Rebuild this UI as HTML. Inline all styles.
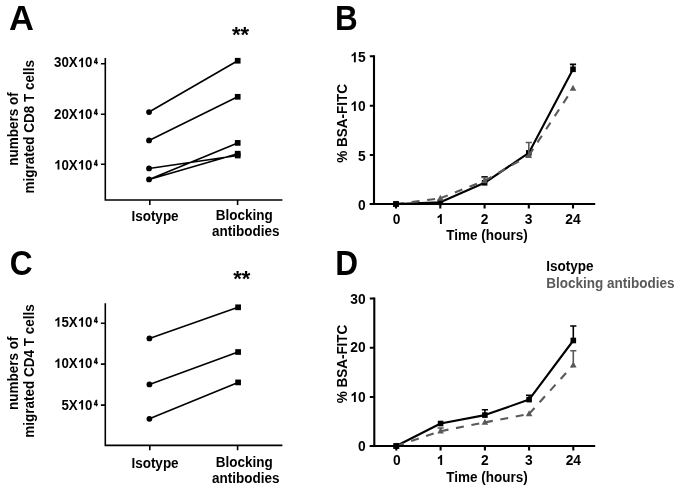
<!DOCTYPE html>
<html><head><meta charset="utf-8">
<style>
html,body{margin:0;padding:0;background:#fff;}
svg{display:block;will-change:transform;}
text{font-family:"Liberation Sans",sans-serif;font-weight:bold;fill:#000;}
</style></head><body>
<svg width="685" height="489" viewBox="0 0 685 489">
<rect width="685" height="489" fill="#fff"/>
<text transform="translate(8.9,29.6) scale(1.03,1.03)" style="font-size:33.5px">A</text>
<text x="240.5" y="42.3" text-anchor="middle" style="font-size:22px">**</text>
<g stroke="#000" stroke-width="1.6" fill="none">
<path d="M105.3 58.0V200.75M104.6 200.05H282.4"/>
<path d="M100.9 63.8H105.3M100.9 114.2H105.3M100.9 164.2H105.3"/>
<path d="M149.8 200.05V205.05M237.6 200.05V205.05"/>
<path d="M149.05 112.05L237.7 60.75M149.05 140.45L237.7 96.8M149.05 168.45L237.7 155.5M149.05 179.45L237.7 142.9M149.05 179.45L237.7 153.7"/>
</g><g fill="#000">
<circle cx="149.05" cy="112.05" r="2.9"/>
<circle cx="149.05" cy="140.45" r="2.9"/>
<circle cx="149.05" cy="168.45" r="2.9"/>
<circle cx="149.05" cy="179.45" r="2.9"/>
<rect x="234.85" y="57.90" width="5.7" height="5.7" fill="#000"/>
<rect x="234.85" y="93.95" width="5.7" height="5.7" fill="#000"/>
<rect x="234.85" y="140.05" width="5.7" height="5.7" fill="#000"/>
<rect x="234.85" y="150.85" width="5.7" height="5.7" fill="#000"/>
<rect x="234.85" y="152.65" width="5.7" height="5.7" fill="#000"/>
</g>
<text transform="translate(54.04,67.3) scale(1,1.04)" style="font-size:13.3px">30X 0</text><path d="M825 0H544V1000Q390 870 190 805V1050Q300 1086 429 1187Q558 1288 606 1409H825Z" transform="translate(77.71,67.3) scale(0.00649,-0.00675)" fill="#000"/>
<text transform="translate(94.1,63.5) scale(0.86,1.1)" style="font-size:7.6px;stroke:#000;stroke-width:0.5px">4</text>
<text transform="translate(54.04,119.0) scale(1,1.04)" style="font-size:13.3px">20X 0</text><path d="M825 0H544V1000Q390 870 190 805V1050Q300 1086 429 1187Q558 1288 606 1409H825Z" transform="translate(77.71,119.0) scale(0.00649,-0.00675)" fill="#000"/>
<text transform="translate(94.1,115.2) scale(0.86,1.1)" style="font-size:7.6px;stroke:#000;stroke-width:0.5px">4</text>
<text transform="translate(54.04,169.5) scale(1,1.04)" style="font-size:13.3px"> 0X 0</text><path d="M825 0H544V1000Q390 870 190 805V1050Q300 1086 429 1187Q558 1288 606 1409H825Z" transform="translate(54.04,169.5) scale(0.00649,-0.00675)" fill="#000"/><path d="M825 0H544V1000Q390 870 190 805V1050Q300 1086 429 1187Q558 1288 606 1409H825Z" transform="translate(77.71,169.5) scale(0.00649,-0.00675)" fill="#000"/>
<text transform="translate(94.1,165.7) scale(0.86,1.1)" style="font-size:7.6px;stroke:#000;stroke-width:0.5px">4</text>
<text transform="translate(155,220.7) scale(1,1.04)" text-anchor="middle" style="font-size:13.5px">Isotype</text>
<text transform="translate(244.2,219.8) scale(1,1.04)" text-anchor="middle" style="font-size:13.5px">Blocking</text>
<text transform="translate(245.8,235.8) scale(1,1.04)" text-anchor="middle" style="font-size:13.5px">antibodies</text>
<text transform="translate(17.9,128.9) rotate(-90) scale(1,1.04)" text-anchor="middle" style="font-size:13.5px">numbers of</text>
<text transform="translate(34.4,126.8) rotate(-90) scale(1,1.04)" text-anchor="middle" style="font-size:13.5px">migrated CD8 T cells</text>
<text transform="translate(9.7,275.2) scale(0.945,1.035)" style="font-size:33.5px">C</text>
<text x="241.8" y="286.2" text-anchor="middle" style="font-size:22px">**</text>
<g stroke="#000" stroke-width="1.6" fill="none">
<path d="M105.3 303.2V446.05M104.6 445.35H282.4"/>
<path d="M100.9 323.2H105.3M100.9 364.1H105.3M100.9 405.1H105.3"/>
<path d="M149.8 445.35V450.35M237.6 445.35V450.35"/>
<path d="M149.4 338.4L238.1 307.3M149.4 384.4L238.1 352M149.4 418.8L238.1 382.4"/>
</g><g fill="#000">
<circle cx="149.4" cy="338.4" r="2.9"/>
<circle cx="149.4" cy="384.4" r="2.9"/>
<circle cx="149.4" cy="418.8" r="2.9"/>
<rect x="235.25" y="304.45" width="5.7" height="5.7" fill="#000"/>
<rect x="235.25" y="349.15" width="5.7" height="5.7" fill="#000"/>
<rect x="235.25" y="379.55" width="5.7" height="5.7" fill="#000"/>
</g>
<text transform="translate(54.04,326.7) scale(1,1.04)" style="font-size:13.3px"> 5X 0</text><path d="M825 0H544V1000Q390 870 190 805V1050Q300 1086 429 1187Q558 1288 606 1409H825Z" transform="translate(54.04,326.7) scale(0.00649,-0.00675)" fill="#000"/><path d="M825 0H544V1000Q390 870 190 805V1050Q300 1086 429 1187Q558 1288 606 1409H825Z" transform="translate(77.71,326.7) scale(0.00649,-0.00675)" fill="#000"/>
<text transform="translate(94.1,322.9) scale(0.86,1.1)" style="font-size:7.6px;stroke:#000;stroke-width:0.5px">4</text>
<text transform="translate(54.04,368.0) scale(1,1.04)" style="font-size:13.3px"> 0X 0</text><path d="M825 0H544V1000Q390 870 190 805V1050Q300 1086 429 1187Q558 1288 606 1409H825Z" transform="translate(54.04,368.0) scale(0.00649,-0.00675)" fill="#000"/><path d="M825 0H544V1000Q390 870 190 805V1050Q300 1086 429 1187Q558 1288 606 1409H825Z" transform="translate(77.71,368.0) scale(0.00649,-0.00675)" fill="#000"/>
<text transform="translate(94.1,364.2) scale(0.86,1.1)" style="font-size:7.6px;stroke:#000;stroke-width:0.5px">4</text>
<text transform="translate(61.44,409.5) scale(1,1.04)" style="font-size:13.3px">5X 0</text><path d="M825 0H544V1000Q390 870 190 805V1050Q300 1086 429 1187Q558 1288 606 1409H825Z" transform="translate(77.71,409.5) scale(0.00649,-0.00675)" fill="#000"/>
<text transform="translate(94.1,405.7) scale(0.86,1.1)" style="font-size:7.6px;stroke:#000;stroke-width:0.5px">4</text>
<text transform="translate(155,467.6) scale(1,1.04)" text-anchor="middle" style="font-size:13.5px">Isotype</text>
<text transform="translate(244.2,466.70000000000005) scale(1,1.04)" text-anchor="middle" style="font-size:13.5px">Blocking</text>
<text transform="translate(245.8,482.70000000000005) scale(1,1.04)" text-anchor="middle" style="font-size:13.5px">antibodies</text>
<text transform="translate(17.9,373.20000000000005) rotate(-90) scale(1,1.04)" text-anchor="middle" style="font-size:13.5px">numbers of</text>
<text transform="translate(34.4,371.1) rotate(-90) scale(1,1.04)" text-anchor="middle" style="font-size:13.5px">migrated CD4 T cells</text>
<text transform="translate(335.1,30) scale(0.937,1.026)" style="font-size:33.5px">B</text>
<path d="M396.0 204L440.3 202.3L484.6 182.8L528.8 152.9L573.0 69.3" stroke="#000" stroke-width="2.1" fill="none" stroke-linejoin="round"/>
<path d="M573.0 69.3V64.4M569.90 64.4H576.10" stroke="#000" stroke-width="1.6" fill="none"/>
<path d="M484.6 182.8V176.7M481.50 176.7H487.70" stroke="#000" stroke-width="1.6" fill="none"/>
<rect x="393.20" y="201.20" width="5.6" height="5.6" fill="#000"/>
<rect x="437.50" y="199.50" width="5.6" height="5.6" fill="#000"/>
<rect x="481.80" y="180.00" width="5.6" height="5.6" fill="#000"/>
<rect x="526.00" y="150.10" width="5.6" height="5.6" fill="#000"/>
<rect x="570.20" y="66.50" width="5.6" height="5.6" fill="#000"/>
<path d="M396.0 204L440.3 198.3" stroke="#595959" stroke-width="2.1" stroke-dasharray="8 7.7" fill="none"/><path d="M440.3 198.3L484.6 180.8" stroke="#595959" stroke-width="2.1" stroke-dasharray="8 7.7" fill="none"/><path d="M484.6 180.8L528.8 155.5" stroke="#595959" stroke-width="2.1" stroke-dasharray="8 7.7" fill="none"/><path d="M528.8 155.5L573.0 88.4" stroke="#595959" stroke-width="2.1" stroke-dasharray="8 7.7" fill="none"/>
<path d="M528.8 155.5V142.5M525.70 142.5H531.90" stroke="#595959" stroke-width="1.6" fill="none"/>
<path d="M484.6 180.8V177.5M481.50 177.5H487.70" stroke="#595959" stroke-width="1.6" fill="none"/>
<path d="M396.00 200.40L399.30 206.40H392.70Z" fill="#595959"/>
<path d="M440.30 194.70L443.60 200.70H437.00Z" fill="#595959"/>
<path d="M484.60 177.20L487.90 183.20H481.30Z" fill="#595959"/>
<path d="M528.80 151.90L532.10 157.90H525.50Z" fill="#595959"/>
<path d="M573.00 84.80L576.30 90.80H569.70Z" fill="#595959"/>
<rect x="393.20" y="201.20" width="5.6" height="5.6" fill="#000"/>
<g stroke="#000" stroke-width="2.1" fill="none">
<path d="M374 55.2V205.0M369.8 203.95H595.2"/>
<path d="M369.8 56.3H374M369.8 105.8H374M369.8 155.0H374M369.8 203.95H374"/>
<path d="M396.0 203.95V208.54999999999998M440.3 203.95V208.54999999999998M484.6 203.95V208.54999999999998M528.8 203.95V208.54999999999998M573.0 203.95V208.54999999999998"/>
</g>
<text transform="translate(350.25,62.2) scale(1,1.04)" style="font-size:13.8px"> 5</text><path d="M825 0H544V1000Q390 870 190 805V1050Q300 1086 429 1187Q558 1288 606 1409H825Z" transform="translate(350.25,62.2) scale(0.00674,-0.00701)" fill="#000"/>
<text transform="translate(350.25,111.1) scale(1,1.04)" style="font-size:13.8px"> 0</text><path d="M825 0H544V1000Q390 870 190 805V1050Q300 1086 429 1187Q558 1288 606 1409H825Z" transform="translate(350.25,111.1) scale(0.00674,-0.00701)" fill="#000"/>
<text transform="translate(365.6,160.8) scale(1,1.04)" text-anchor="end" style="font-size:13.8px">5</text>
<text transform="translate(365.6,209.6) scale(1,1.04)" text-anchor="end" style="font-size:13.8px">0</text>
<text transform="translate(396.6,223.9) scale(1,1.04)" text-anchor="middle" style="font-size:13.8px">0</text>
<text transform="translate(436.26,223.9) scale(1,1.04)" style="font-size:13.8px"> </text><path d="M825 0H544V1000Q390 870 190 805V1050Q300 1086 429 1187Q558 1288 606 1409H825Z" transform="translate(436.26,223.9) scale(0.00674,-0.00701)" fill="#000"/>
<text transform="translate(484.6,223.9) scale(1,1.04)" text-anchor="middle" style="font-size:13.8px">2</text>
<text transform="translate(528.5,223.9) scale(1,1.04)" text-anchor="middle" style="font-size:13.8px">3</text>
<text transform="translate(573.0,223.9) scale(1,1.04)" text-anchor="middle" style="font-size:13.8px">24</text>
<text transform="translate(487,239.6) scale(1,1.04)" text-anchor="middle" style="font-size:13.5px">Time (hours)</text>
<text transform="translate(346.5,123.4) rotate(-90) scale(1,1.04)" text-anchor="middle" style="font-size:13.5px">% BSA-FITC</text>
<text transform="translate(335.3,275) scale(0.943,1.026)" style="font-size:33.5px">D</text>
<path d="M396.3 446.0L440.6 423.5L484.90000000000003 415.1L529.0999999999999 399.6L573.3 340.5" stroke="#000" stroke-width="2.1" fill="none" stroke-linejoin="round"/>
<path d="M573.3 340.5V326M570.20 326H576.40" stroke="#000" stroke-width="1.6" fill="none"/>
<path d="M484.90000000000003 415.1V409.7M481.80 409.7H488.00" stroke="#000" stroke-width="1.6" fill="none"/>
<path d="M529.0999999999999 399.6V395.2M526.00 395.2H532.20" stroke="#000" stroke-width="1.6" fill="none"/>
<rect x="393.50" y="443.20" width="5.6" height="5.6" fill="#000"/>
<rect x="437.80" y="420.70" width="5.6" height="5.6" fill="#000"/>
<rect x="482.10" y="412.30" width="5.6" height="5.6" fill="#000"/>
<rect x="526.30" y="396.80" width="5.6" height="5.6" fill="#000"/>
<rect x="570.50" y="337.70" width="5.6" height="5.6" fill="#000"/>
<path d="M396.3 446.0L440.6 431.2" stroke="#595959" stroke-width="2.1" stroke-dasharray="8 7.7" fill="none"/><path d="M440.6 431.2L484.90000000000003 422.4" stroke="#595959" stroke-width="2.1" stroke-dasharray="8 7.7" fill="none"/><path d="M484.90000000000003 422.4L529.0999999999999 413.9" stroke="#595959" stroke-width="2.1" stroke-dasharray="8 7.7" fill="none"/><path d="M529.0999999999999 413.9L573.3 365" stroke="#595959" stroke-width="2.1" stroke-dasharray="8 7.7" fill="none"/>
<path d="M573.3 365V350.8M570.20 350.8H576.40" stroke="#595959" stroke-width="1.6" fill="none"/>
<path d="M440.6 431.2V428.0M437.50 428.0H443.70" stroke="#595959" stroke-width="1.6" fill="none"/>
<path d="M396.30 442.40L399.60 448.40H393.00Z" fill="#595959"/>
<path d="M440.60 427.60L443.90 433.60H437.30Z" fill="#595959"/>
<path d="M484.90 418.80L488.20 424.80H481.60Z" fill="#595959"/>
<path d="M529.10 410.30L532.40 416.30H525.80Z" fill="#595959"/>
<path d="M573.30 361.40L576.60 367.40H570.00Z" fill="#595959"/>
<rect x="393.50" y="443.20" width="5.6" height="5.6" fill="#000"/>
<g stroke="#000" stroke-width="2.1" fill="none">
<path d="M374.3 297.4V447.05M369.8 446.0H595.2"/>
<path d="M369.8 298.45H374.3M369.8 347.75H374.3M369.8 397.0H374.3M369.8 446.0H374.3"/>
<path d="M396.3 446.0V450.6M440.6 446.0V450.6M484.90000000000003 446.0V450.6M529.0999999999999 446.0V450.6M573.3 446.0V450.6"/>
</g>
<text transform="translate(365.6,303.5) scale(1,1.04)" text-anchor="end" style="font-size:13.8px">30</text>
<text transform="translate(365.6,352.3) scale(1,1.04)" text-anchor="end" style="font-size:13.8px">20</text>
<text transform="translate(350.25,401.9) scale(1,1.04)" style="font-size:13.8px"> 0</text><path d="M825 0H544V1000Q390 870 190 805V1050Q300 1086 429 1187Q558 1288 606 1409H825Z" transform="translate(350.25,401.9) scale(0.00674,-0.00701)" fill="#000"/>
<text transform="translate(365.6,450.6) scale(1,1.04)" text-anchor="end" style="font-size:13.8px">0</text>
<text transform="translate(396.90000000000003,464.9) scale(1,1.04)" text-anchor="middle" style="font-size:13.8px">0</text>
<text transform="translate(436.56,464.9) scale(1,1.04)" style="font-size:13.8px"> </text><path d="M825 0H544V1000Q390 870 190 805V1050Q300 1086 429 1187Q558 1288 606 1409H825Z" transform="translate(436.56,464.9) scale(0.00674,-0.00701)" fill="#000"/>
<text transform="translate(484.90000000000003,464.9) scale(1,1.04)" text-anchor="middle" style="font-size:13.8px">2</text>
<text transform="translate(528.8,464.9) scale(1,1.04)" text-anchor="middle" style="font-size:13.8px">3</text>
<text transform="translate(573.3,464.9) scale(1,1.04)" text-anchor="middle" style="font-size:13.8px">24</text>
<text transform="translate(487,481.5) scale(1,1.04)" text-anchor="middle" style="font-size:13.5px">Time (hours)</text>
<text transform="translate(346.5,364) rotate(-90) scale(1,1.04)" text-anchor="middle" style="font-size:13.5px">% BSA-FITC</text>
<text transform="translate(546.3,270.9) scale(1,1.04)" style="font-size:13.5px">Isotype</text>
<text transform="translate(546.3,287.8) scale(1,1.04)" style="font-size:13.5px;fill:#595959">Blocking antibodies</text>
</svg>
</body></html>
